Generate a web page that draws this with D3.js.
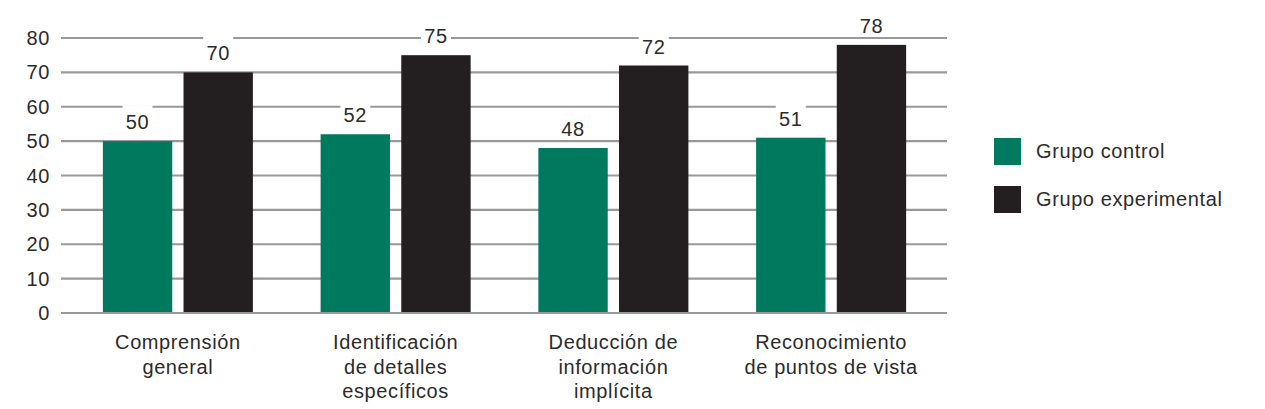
<!DOCTYPE html>
<html>
<head>
    <meta charset="utf-8">
    <script src="https://d3js.org/d3.v7.min.js"></script>
    <style>
      body { margin: 0; background: #fff; }
      text { font-family: "Liberation Sans", Arial, sans-serif; fill: #2b2b2b; letter-spacing: 0.6px; }
    </style>
</head>
<body>
<script>
  // data
  var categories = [
    ["Comprensión", "general"],
    ["Identificación", "de detalles", "específicos"],
    ["Deducción de", "información", "implícita"],
    ["Reconocimiento", "de puntos de vista"]
  ];
  var seriesNames = ["Grupo control", "Grupo experimental"];
  var control = [50, 52, 48, 51];
  var experimental = [70, 75, 72, 78];
  var yTicks = [0, 10, 20, 30, 40, 50, 60, 70, 80];
  var colors = ["#007a5e", "#231f20"];

  var width = 1265, height = 409;
  var svg = d3.select("body").append("svg")
      .attr("width", width)
      .attr("height", height);

  var x0 = d3.scaleBand()
      .domain(d3.range(categories.length))
      .range([69, 940])
      .paddingInner(0.311)
      .paddingOuter(0.1555);

  var x1 = d3.scaleBand()
      .domain([0, 1])
      .range([0, x0.bandwidth()])
      .paddingInner(0.14);

  var y = d3.scaleLinear().domain([0, 80]).range([313, 38]);

  // gridlines
  svg.append("g").selectAll("line")
      .data(yTicks.filter(function(d) { return d > 0; }))
      .enter().append("line")
      .attr("x1", 61).attr("x2", 947)
      .attr("y1", function(d) { return y(d); })
      .attr("y2", function(d) { return y(d); })
      .attr("stroke", "#999")
      .attr("stroke-width", 2.2);

  // y labels
  svg.append("g").selectAll("text")
      .data(yTicks)
      .enter().append("text")
      .attr("x", 50)
      .attr("y", function(d) { return y(d) + 7; })
      .attr("text-anchor", "end")
      .style("font-size", "20px")
      .text(function(d) { return d; });

  var rows = [];
  categories.forEach(function(c, i) {
    rows.push({ cat: i, s: 0, v: control[i] });
    rows.push({ cat: i, s: 1, v: experimental[i] });
  });

  var bars = svg.append("g");
  bars.selectAll("rect")
      .data(rows)
      .enter().append("rect")
      .attr("x", function(d) { return x0(d.cat) + x1(d.s); })
      .attr("width", x1.bandwidth())
      .attr("y", function(d) { return y(d.v); })
      .attr("height", function(d) { return y(0) - y(d.v); })
      .attr("fill", function(d) { return colors[d.s]; });

  // baseline over bars
  svg.append("line")
      .attr("x1", 61).attr("x2", 947)
      .attr("y1", y(0)).attr("y2", y(0))
      .attr("stroke", "#999")
      .attr("stroke-width", 2.2);

  // value labels with white boxes
  var lab = svg.append("g").selectAll("g")
      .data(rows)
      .enter().append("g")
      .attr("transform", function(d) {
        return "translate(" + (x0(d.cat) + x1(d.s) + x1.bandwidth() / 2) + "," + (y(d.v) - 12) + ")";
      });
  lab.append("rect")
      .attr("x", -15).attr("width", 30)
      .attr("y", -24).attr("height", 28)
      .attr("fill", "#fff");
  lab.append("text")
      .attr("text-anchor", "middle")
      .style("font-size", "20px")
      .text(function(d) { return d.v; });

  // category labels
  var cat = svg.append("g").selectAll("text")
      .data(categories)
      .enter().append("text")
      .attr("text-anchor", "middle")
      .attr("x", function(d, i) { return x0(i) + x0.bandwidth() / 2; })
      .attr("y", 349)
      .style("font-size", "20px");
  cat.selectAll("tspan")
      .data(function(d) { return d; })
      .enter().append("tspan")
      .attr("x", function() { return d3.select(this.parentNode).attr("x"); })
      .attr("dy", function(d, i) { return i === 0 ? 0 : 24.5; })
      .text(function(d) { return d; });

  // legend
  var leg = svg.append("g").selectAll("g")
      .data(seriesNames)
      .enter().append("g")
      .attr("transform", function(d, i) { return "translate(994," + (138 + i * 48) + ")"; });
  leg.append("rect")
      .attr("width", 27).attr("height", 27)
      .attr("fill", function(d, i) { return colors[i]; });
  leg.append("text")
      .attr("x", 42).attr("y", 20)
      .style("font-size", "20px")
      .text(function(d) { return d; });
</script>
</body>
</html>
